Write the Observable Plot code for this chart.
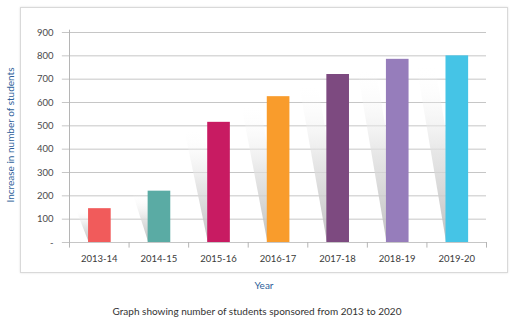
<!DOCTYPE html>
<html>
<head>
<meta charset="utf-8">
<script src="https://cdn.jsdelivr.net/npm/d3@7"></script>
<script src="https://cdn.jsdelivr.net/npm/@observablehq/plot@0.6"></script>
<style>
  html, body { margin: 0; padding: 0; background: #fff; }
  #wrap { position: relative; width: 521px; height: 323px; font-family: Lato, "Open Sans", sans-serif; overflow: hidden; }
  #frame { position: absolute; left: 20px; top: 7px; width: 486px; height: 264px; border: 1px solid #d9d9d9; box-shadow: 0 0 2px rgba(0,0,0,0.12); background: #fff; }
  #chart { position: absolute; left: 0; top: 0; }
  .lbl { position: absolute; white-space: nowrap; }
  #ylab { left: 10px; top: 135px; transform: translate(-50%, -50%) rotate(-90deg); color: #2f5f9a; font-size: 10px; }
  #xlab { left: 264px; top: 285px; transform: translate(-50%, -50%); color: #2f5f9a; font-size: 10px; }
  #cap { left: 257px; top: 311px; transform: translate(-50%, -50%); color: #333; font-size: 10px; }
</style>
</head>
<body>
<div id="wrap">
  <div id="frame"></div>
  <div id="chart"></div>
  <div class="lbl" id="ylab">Increase in number of students</div>
  <div class="lbl" id="xlab">Year</div>
  <div class="lbl" id="cap">Graph showing number of students sponsored from 2013 to 2020</div>
</div>
<script>
const years = ["2013-14", "2014-15", "2015-16", "2016-17", "2017-18", "2018-19", "2019-20"];
const students = [145, 220, 515, 625, 720, 785, 800];
const barColors = ["#F15B5B", "#5AABA4", "#C81B62", "#F99C2C", "#7D4A80", "#967DBB", "#45C4E6"];
const yTicks = [0, 100, 200, 300, 400, 500, 600, 700, 800, 900];

const bars = years.map((y, i) => ({ i, year: y, v: students[i], c: barColors[i] }));
const shadows = bars.flatMap(b => {
  const s = 0.5 * Math.sqrt(b.v / 800);
  return [
    { i: b.i, y: 0, x1: b.i + 0.33, x2: b.i + 0.64 },
    { i: b.i, y: b.v * 0.95, x1: b.i + 0.33 - s, x2: b.i + 0.64 - s }
  ];
});

const chart = Plot.plot({
  width: 521,
  height: 323,
  marginLeft: 69,
  marginRight: 35,
  marginTop: 32,
  marginBottom: 81,
  style: { background: "transparent", fontFamily: "Lato, sans-serif", overflow: "visible" },
  x: { domain: [0, 7], axis: null },
  y: { domain: [0, 900], axis: null },
  marks: [
    Plot.ruleY(yTicks, { x1: -0.12, x2: 7, stroke: "#c6c6c6", strokeWidth: 1 }),
    Plot.ruleX(d3.range(8), { y1: 0, y2: -24, stroke: "#b5b5b5" }),
    Plot.ruleX([0], { y1: 910, y2: 0, stroke: "#b5b5b5" }),
    Plot.areaX(shadows, { y: "y", x1: "x1", x2: "x2", z: "i", fill: "url(#shadowGrad)" }),
    Plot.rectY(bars, { x1: d => d.i + 0.32, x2: d => d.i + 0.70, y1: 0, y2: "v", fill: "c" }),
    Plot.text(yTicks, { x: 0, y: d => d, text: d => d === 0 ? "-" : String(d), textAnchor: "end", dx: -16, fill: "#4a4a4a", fontSize: 9.5 }),
    Plot.text(bars, { x: d => d.i + 0.5, y: 0, text: "year", dy: 16, fill: "#3a3a3a", fontSize: 9.5 })
  ]
});

const ns = "http://www.w3.org/2000/svg";
const defs = document.createElementNS(ns, "defs");
defs.innerHTML = '<linearGradient id="shadowGrad" x1="0" y1="0" x2="0" y2="1">' +
  '<stop offset="0" stop-color="#ffffff" stop-opacity="0"/>' +
  '<stop offset="0.5" stop-color="#dedede" stop-opacity="0.75"/>' +
  '<stop offset="1" stop-color="#b9b9b9" stop-opacity="0.9"/>' +
  '</linearGradient>';
chart.insertBefore(defs, chart.firstChild);
document.getElementById("chart").appendChild(chart);
</script>
</body>
</html>
